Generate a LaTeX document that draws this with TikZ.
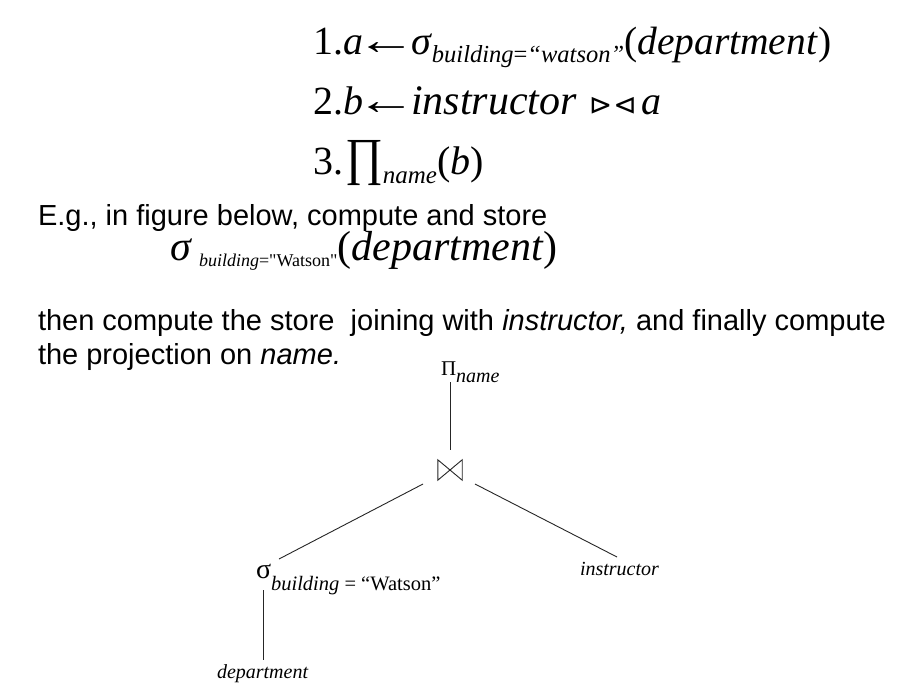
\documentclass[tikz,border=0pt]{standalone}
\usepackage{fontspec}
\setmainfont{Liberation Serif}
\newfontfamily\sansf{Liberation Sans}
\newfontfamily\symf{DejaVu Sans}
\font\rawq="Liberation Serif" at 18pt
\usetikzlibrary{calc}
\newcommand{\fs}[1]{\fontsize{#1}{#1}\selectfont}
\newcommand{\lowsub}[3]{\raisebox{-#1pt}{\fs{#2}#3}}
\newcommand{\larr}{\hspace{-7pt}\scalebox{1.5}[1.05]{←}\hspace{-5pt}}
\tikzset{
  txt/.style={anchor=base west, inner sep=0pt, outer sep=0pt},
  edge/.style={line width=0.9pt, draw=black!85},
}
\begin{document}
\begin{tikzpicture}[x=1pt,y=-1pt]
\useasboundingbox[fill=white] (0,0) rectangle (924,683);
% formulas
\node[txt] (f1) at (313,54) {\fs{40}1.\textit{a}\larr\textit{σ}\lowsub{8}{24.5}{\textit{building}=\textit{“watson”}}{\fs{39.5}(\textit{department})}};
\node[txt] (f2) at (313,114) {\fs{40}2.\textit{b}\larr{\fs{42}\textit{instructor}}\hspace{12pt}{\symf\fs{28}⊳\hspace{1pt}⊲}\hspace{5pt}\textit{a}};
\node[txt] (f3) at (313,174) {\fs{40}3.\hspace{2pt}\scalebox{1.15}[1.3]{∏}\lowsub{9}{25}{\textit{name}}(\textit{b})};
% explanatory text
\node[txt] (eg) at (38,225) {\sansf\fs{29}E.g., in figure below, compute and store};
\node[txt] (sig) at (170,260) {\fs{42}\textit{σ}\,\lowsub{6}{18}{\textit{building}=\rawq"\fs{18}Watson\rawq"}(\textit{department})};
\node[txt] (then) at (38,330) {\sansf\fs{29}then compute the store\ \ joining with \textit{instructor,} and finally compute};
\node[txt] (projtxt) at (38,364) {\sansf\fs{29}the projection on \textit{name.}};
% tree
\node[txt] (pi) at (441,375) {\fs{21}Π\lowsub{7}{20}{\textit{name}}};
\node[minimum width=24pt, minimum height=20pt, inner sep=0pt] (join) at (450,470) {};
\draw[edge] (join.north west) -- (join.south west) -- (join.north east) -- (join.south east) -- cycle;
\node[txt] (sel) at (256,578) {\fs{28}σ\lowsub{12}{20.5}{\textit{building} = ``Watson''}};
\node[txt] (instr) at (580,575) {\fs{20}\textit{instructor}};
\node[txt] (dept) at (217,678) {\fs{20}\textit{department}};
% connectors
\draw[edge, shorten >=10pt] (pi.south -| join.center) -- (join.north);
\draw[edge] ($(join.center)+(-27,14)$) -- ($(sel.base west)+(23,-19)$);
\draw[edge] ($(join.center)+(25,14)$) -- ($(instr.base west)+(37,-18)$);
\draw[edge] ($(sel.base west)+(7,12)$) -- ($(dept.base west)+(46,-18)$);
\end{tikzpicture}
\end{document}
